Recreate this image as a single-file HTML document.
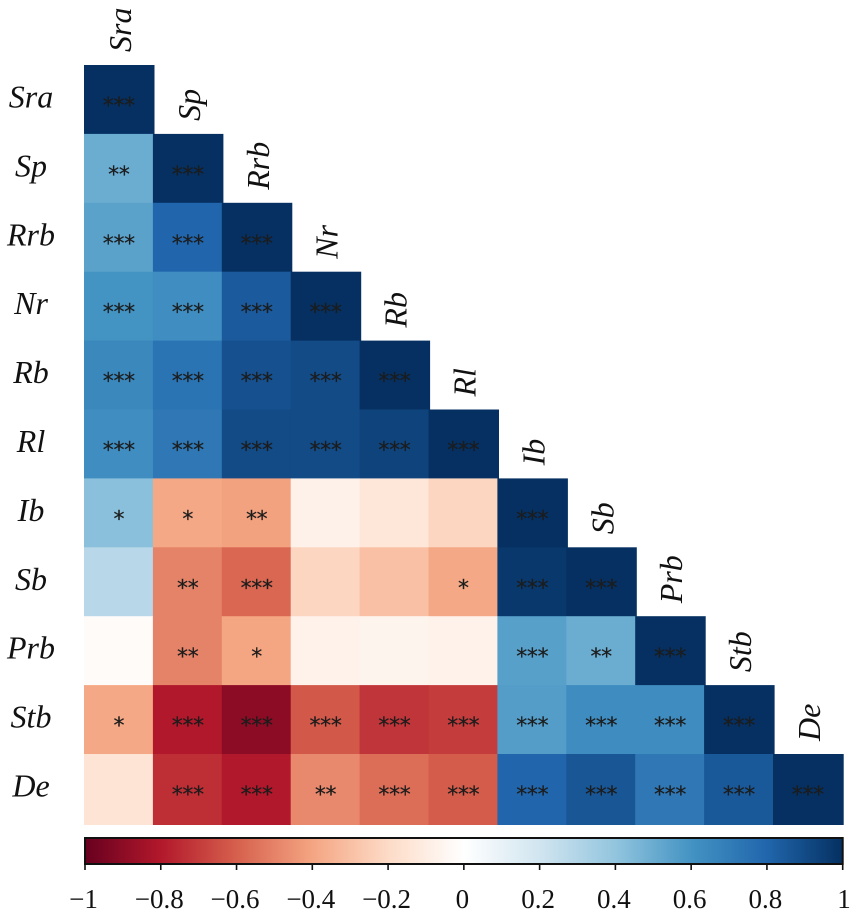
<!DOCTYPE html>
<html>
<head>
<meta charset="utf-8">
<title>Correlation heatmap</title>
<style>
html,body{margin:0;padding:0;background:#fff;width:851px;height:913px;overflow:hidden}
svg{display:block}
.lab{font-family:"Liberation Serif",serif;font-style:italic;font-size:32px;fill:#111}
.tick{font-family:"Liberation Serif",serif;font-size:27px;fill:#111}
.star{font-family:"DejaVu Sans",sans-serif;font-size:22px;letter-spacing:-0.3px;fill:#1c1c1c;stroke:#1c1c1c;stroke-width:0.2px}
</style>
</head>
<body>
<svg id="chart" xmlns="http://www.w3.org/2000/svg" width="851" height="913" viewBox="0 0 851 913">
<defs><linearGradient id="cbar-grad" x1="0" x2="1" y1="0" y2="0"></linearGradient></defs>
</svg>
<script>
const variables = ["Sra","Sp","Rrb","Nr","Rb","Rl","Ib","Sb","Prb","Stb","De"];
const corrValues = [
  [1],
  [0.50,1],
  [0.54,0.80,1],
  [0.60,0.62,0.84,1],
  [0.65,0.74,0.88,0.90,1],
  [0.62,0.72,0.90,0.90,0.93,1],
  [0.42,-0.39,-0.41,-0.08,-0.14,-0.22,1],
  [0.28,-0.50,-0.58,-0.22,-0.30,-0.39,0.97,1],
  [-0.02,-0.50,-0.40,-0.07,-0.06,-0.07,0.55,0.50,1],
  [-0.39,-0.80,-0.90,-0.62,-0.72,-0.70,0.56,0.63,0.63,1],
  [-0.15,-0.74,-0.80,-0.48,-0.56,-0.61,0.80,0.86,0.72,0.85,1]
];
const significance = [
  ["***"],
  ["**","***"],
  ["***","***","***"],
  ["***","***","***","***"],
  ["***","***","***","***","***"],
  ["***","***","***","***","***","***"],
  ["*","*","**","","","","***"],
  ["","**","***","","","*","***","***"],
  ["","**","*","","","","***","**","***"],
  ["*","***","***","***","***","***","***","***","***","***"],
  ["","***","***","**","***","***","***","***","***","***","***"]
];
const colorStops = ["#67001f","#b2182b","#d6604d","#f4a582","#fddbc7","#ffffff","#d1e5f0","#92c5de","#4393c3","#2166ac","#053061"];
const colorbarTicks = [-1,-0.8,-0.6,-0.4,-0.2,0,0.2,0.4,0.6,0.8,1];

const NS = "http://www.w3.org/2000/svg";
const svg = document.getElementById("chart");
const left = 84, right = 843.7, top0 = 65, bottom = 825;
const cellW = 68.9, cellH = 68.9;
const n = variables.length;
const xPos = i => left + i * cellW;
const yPos = i => top0 + i * cellH;
const cbLeft = 85, cbRight = 842.7, cbTop = 838, cbBottom = 864;
const cbX = v => cbLeft + (v + 1) / 2 * (cbRight - cbLeft);

function hexRgb(h){ return [1,3,5].map(k => parseInt(h.substr(k,2),16)); }
function colorFor(v){
  const t = Math.max(0, Math.min(1, (v + 1) / 2)) * (colorStops.length - 1);
  const i = Math.min(Math.floor(t), colorStops.length - 2);
  const f = t - i;
  const a = hexRgb(colorStops[i]), b = hexRgb(colorStops[i + 1]);
  return "rgb(" + a.map((c, k) => Math.round(c + (b[k] - c) * f)).join(",") + ")";
}
function make(tag, attrs, text){
  const el = document.createElementNS(NS, tag);
  for (const k in attrs) el.setAttribute(k, attrs[k]);
  if (text !== undefined) el.textContent = text;
  return el;
}

corrValues.forEach((row, r) => {
  row.forEach((v, c) => {
    const w = c === n - 1 ? right - xPos(c) : (c === r ? cellW + 1.6 : cellW + 0.4);
    const h = r === n - 1 ? bottom - yPos(r) : cellH + 0.4;
    const rect = make("rect", {x: xPos(c), y: yPos(r), width: w, height: h, fill: colorFor(v)});
    
    
    svg.appendChild(rect);
  });
});
significance.forEach((row, r) => {
  row.forEach((s, c) => {
    if (!s) return;
    const t = make("text", {x: xPos(c) + cellW / 2 + 0.4, y: yPos(r) + cellH / 2 + 13.5, "text-anchor": "middle", "class": "star"}, s);
    
    
    svg.appendChild(t);
  });
});
variables.forEach((name, i) => {
  const rowLabel = make("text", {x: 31, y: yPos(i) + cellH / 2 + 8, "text-anchor": "middle", "class": "lab"}, name);
  
  
  svg.appendChild(rowLabel);
  const cx = xPos(i) + 47, cy = yPos(i) - 13;
  const colLabel = make("text", {x: cx, y: cy, transform: "rotate(-90 " + cx + " " + cy + ")", "class": "lab"}, name);
  
  
  svg.appendChild(colLabel);
});

const grad = document.getElementById("cbar-grad");
colorStops.forEach((c, i) => {
  grad.appendChild(make("stop", {offset: (i / (colorStops.length - 1)), "stop-color": c}));
});
const cb = make("rect", {x: cbLeft, y: cbTop, width: cbRight - cbLeft, height: cbBottom - cbTop, fill: "url(#cbar-grad)", stroke: "#111", "stroke-width": 2});


svg.appendChild(cb);
colorbarTicks.forEach(v => {
  const x = cbX(v);
  const tick = make("line", {x1: x, x2: x, y1: cbBottom, y2: cbBottom + 6, stroke: "#111", "stroke-width": 1.6});
  
  
  svg.appendChild(tick);
  const label = (v < 0 ? "\u2212" : "") + Math.abs(v);
  const tl = make("text", {x: v === 1 ? x + 8 : x - 1.5, y: 908, "text-anchor": v === 1 ? "end" : "middle", "class": "tick"}, label);
  
  
  svg.appendChild(tl);
});
</script>
</body>
</html>
